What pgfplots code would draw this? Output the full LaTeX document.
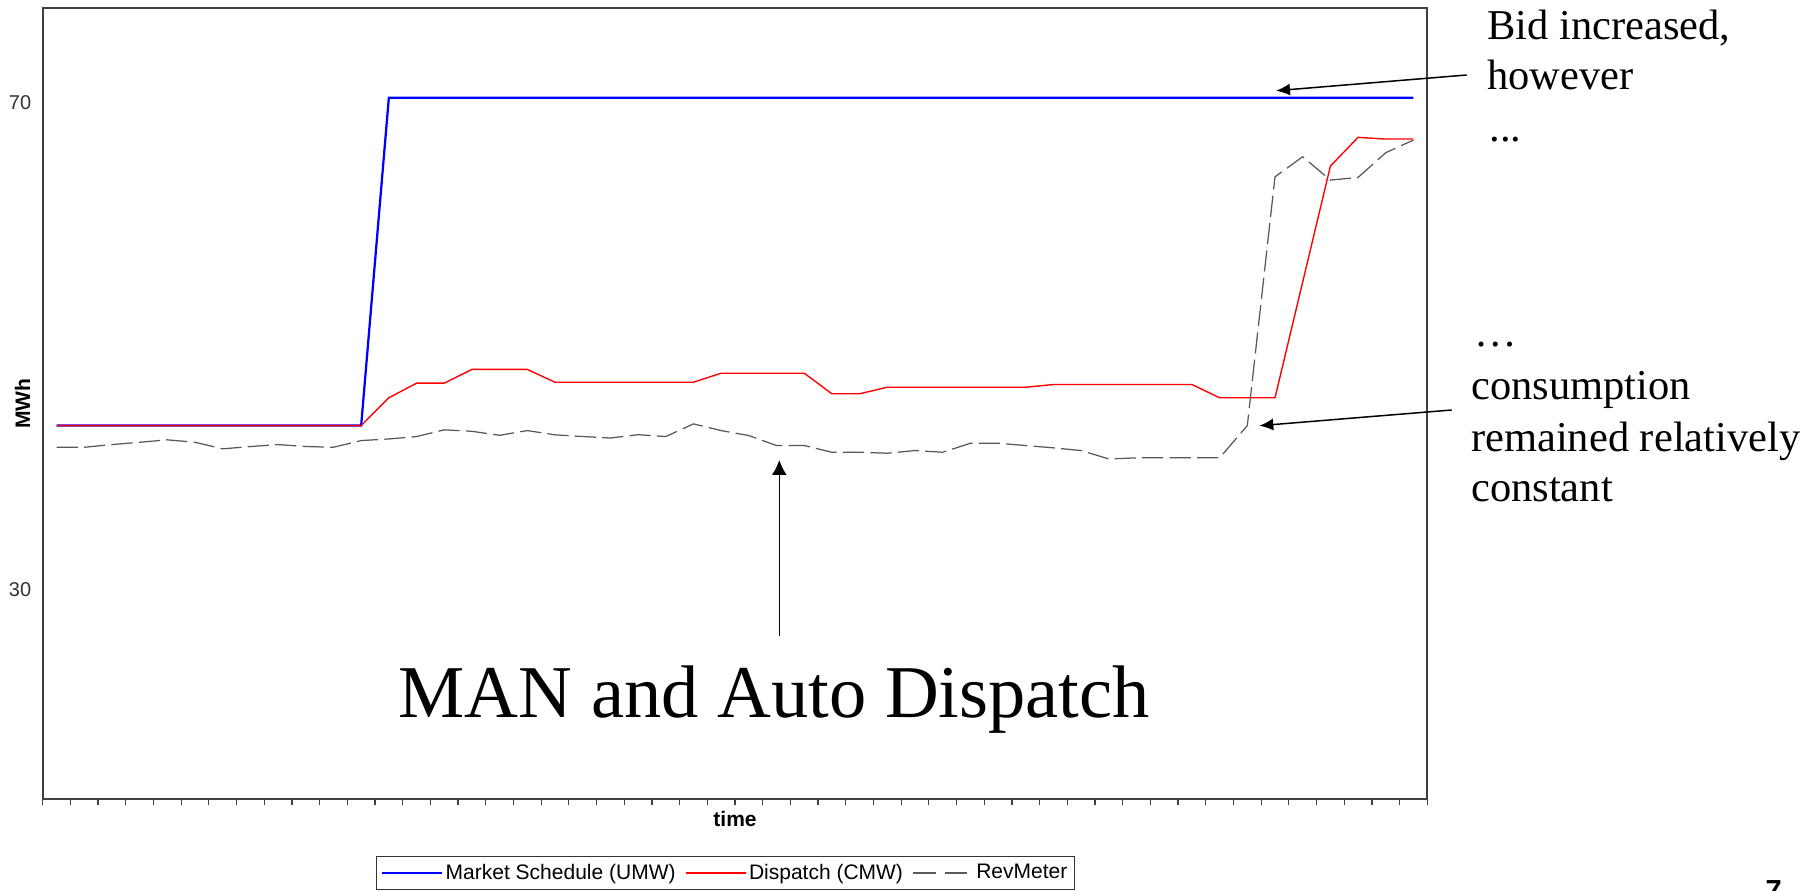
\documentclass[border=0pt]{standalone}
\usepackage{fontspec}
\setmainfont{Liberation Serif}
\newfontfamily\arial{Liberation Sans}
\usepackage{pgfplots}
\pgfplotsset{compat=1.18}
\usetikzlibrary{arrows.meta}

\begin{document}
\begin{tikzpicture}
\begin{axis}[
  at={(17.08pt,-319.72pt)}, anchor=south west,
  width=553.84pt, height=316.52pt, scale only axis,
  xmin=-0.5, xmax=49.5, ymin=12.78, ymax=77.74,
  xtick={-0.5,0.5,...,49.5}, xticklabels={},
  ytick={30,70},
  tick align=outside, major tick length=2.4pt,
  xtick pos=bottom, ytick pos=left,
  ytick style={draw=none},
  x tick style={black!75, line width=0.5pt},
  axis line style={black!75, line width=0.7pt},
  /pgf/number format/assume math mode=true,
  yticklabel style={font=\arial\fontsize{8}{9}\selectfont, text=black!80, inner sep=0pt, xshift=-2pt},
  every axis x label/.style={at={(axis description cs:0.5,-0.0253)}, anchor=center, font=\arial\bfseries\fontsize{8.4}{10}\selectfont},
  every axis y label/.style={at={(axis description cs:-0.0146,0.5)}, rotate=90, anchor=center, font=\arial\bfseries\fontsize{8.4}{10}\selectfont},
  xlabel={time}, ylabel={MWh},
  legend style={at={(axis description cs:0.2407,-0.0717)}, anchor=north west,
    legend columns=3, draw=black!80, fill=white,
    inner xsep=1.8pt, inner ysep=2pt,
    nodes={inner sep=1pt, text depth=0.1em},
    font=\arial\fontsize{8.4}{10}\selectfont,
    /tikz/every even column/.append style={column sep=2.8pt},
    cells={anchor=west}},
  legend image code/.code={\draw[#1] (0pt,0pt) -- (24pt,0pt);},
]
\addplot[blue, line width=0.9pt] coordinates {
(0,43.46)(1,43.46)(2,43.46)(3,43.46)(4,43.46)(5,43.46)(6,43.46)(7,43.46)(8,43.46)(9,43.46)
(10,43.46)(11,43.46)(12,70.38)(13,70.38)(14,70.38)(15,70.38)(16,70.38)(17,70.38)(18,70.38)(19,70.38)
(20,70.38)(21,70.38)(22,70.38)(23,70.38)(24,70.38)(25,70.38)(26,70.38)(27,70.38)(28,70.38)(29,70.38)
(30,70.38)(31,70.38)(32,70.38)(33,70.38)(34,70.38)(35,70.38)(36,70.38)(37,70.38)(38,70.38)(39,70.38)
(40,70.38)(41,70.38)(42,70.38)(43,70.38)(44,70.38)(45,70.38)(46,70.38)(47,70.38)(48,70.38)(49,70.38)
};
\addlegendentry{Market Schedule (UMW)}
\addplot[red, line width=0.55pt] coordinates {
(0,43.46)(1,43.46)(2,43.46)(3,43.46)(4,43.46)(5,43.46)(6,43.46)(7,43.46)(8,43.46)(9,43.46)
(10,43.46)(11,43.46)(12,45.74)(13,46.94)(14,46.94)(15,48.07)(16,48.07)(17,48.07)(18,47.02)(19,47.02)
(20,47.02)(21,47.02)(22,47.02)(23,47.02)(24,47.76)(25,47.76)(26,47.76)(27,47.76)(28,46.07)(29,46.07)
(30,46.61)(31,46.61)(32,46.61)(33,46.61)(34,46.61)(35,46.61)(36,46.83)(37,46.83)(38,46.83)(39,46.83)
(40,46.83)(41,46.83)(42,45.74)(43,45.74)(44,45.74)(45,55.25)(46,64.76)(47,67.12)(48,66.98)(49,66.98)
};
\addlegendentry{Dispatch (CMW)}
\addplot[black!65, line width=0.5pt, dash pattern=on 8.5pt off 2.5pt,
  legend image post style={dash pattern=on 9pt off 3.6pt}] coordinates {
(0,41.68)(1,41.68)(2,41.90)(3,42.09)(4,42.29)(5,42.09)(6,41.55)(7,41.74)(8,41.90)(9,41.74)
(10,41.68)(11,42.23)(12,42.36)(13,42.56)(14,43.11)(15,42.99)(16,42.66)(17,43.05)(18,42.70)(19,42.56)
(20,42.44)(21,42.71)(22,42.56)(23,43.60)(24,43.05)(25,42.64)(26,41.82)(27,41.82)(28,41.27)(29,41.27)
(30,41.19)(31,41.41)(32,41.27)(33,42.01)(34,42.01)(35,41.82)(36,41.63)(37,41.41)(38,40.72)(39,40.81)
(40,40.81)(41,40.81)(42,40.81)(43,43.46)(44,63.88)(45,65.53)(46,63.61)(47,63.83)(48,65.86)(49,66.90)
};
\addlegendentry{RevMeter}
\end{axis}
\begin{scope}[x=0.4pt,y=-0.4pt]
\node[anchor=base west, inner sep=0pt, font=\fontsize{17}{20}\selectfont] at (1486.7,40) {Bid increased,};
\node[anchor=base west, inner sep=0pt, font=\fontsize{17}{20}\selectfont] at (1486.7,90) {however};
\node[anchor=base west, inner sep=0pt, font=\fontsize{17}{20}\selectfont] at (1489,141.7) {...};
\node[anchor=base west, inner sep=0pt, font=\fontsize{17}{20}\selectfont] at (1474,346.7) {…};
\node[anchor=base west, inner sep=0pt, font=\fontsize{17}{20}\selectfont] at (1470.7,400) {consumption};
\node[anchor=base west, inner sep=0pt, font=\fontsize{17}{20}\selectfont] at (1470.7,451.7) {remained relatively};
\node[anchor=base west, inner sep=0pt, font=\fontsize{17}{20}\selectfont] at (1470.7,501.7) {constant};
\node[anchor=base, inner sep=0pt, font=\fontsize{29.8}{36}\selectfont] at (774.3,717) {MAN and Auto Dispatch};
\draw[-{Latex[length=5.6pt,width=4.8pt]}, line width=0.6pt] (1466.7,75) -- (1276,90.7);
\draw[-{Latex[length=5.6pt,width=4.8pt]}, line width=0.6pt] (1451.7,410) -- (1259.3,425.7);
\draw[-{Latex[length=6pt,width=6pt]}, line width=0.6pt] (779.3,636) -- (779.3,460);
\node[anchor=north west, inner sep=0pt, font=\arial\bfseries\fontsize{11.6}{14}\selectfont] at (1765,880) {7};
\pgfresetboundingbox
\path[use as bounding box] (0,0) rectangle (1820,891);
\end{scope}
\end{tikzpicture}
\end{document}
